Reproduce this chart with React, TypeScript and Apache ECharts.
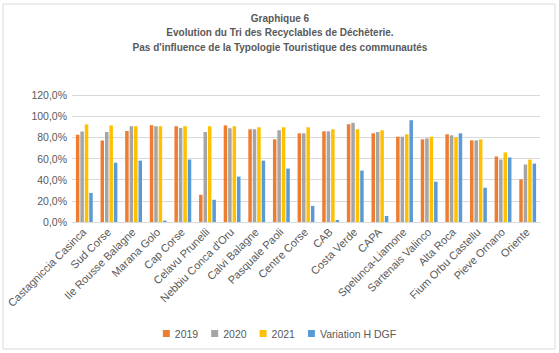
import React, { useEffect, useRef } from "react";
import * as echarts from "echarts";

const categories = [
  "Castagniccia Casinca", "Sud Corse", "Ile Rousse Balagne", "Marana Golo", "Cap Corse",
  "Celavu Prunelli", "Nebbiu Conca d'Oru", "Calvi Balagne", "Pasquale Paoli", "Centre Corse",
  "CAB", "Costa Verde", "CAPA", "Spelunca-Liamone", "Sartenais Valinco", "Alta Roca",
  "Fium Orbu Castellu", "Pieve Ornano", "Oriente",
];
const v2019 = [82.5, 77, 86, 91.5, 90.5, 25.7, 91.3, 87.6, 78.1, 83.8, 85.7, 92.4, 83.8, 80.6, 78.1, 82.9, 77.1, 61.9, 40.3];
const v2020 = [85.5, 85, 90.5, 90.5, 88.9, 85, 88.6, 87.6, 86.7, 83.8, 85.7, 93.7, 85, 80.6, 79, 81.9, 77.1, 59, 54.3];
const v2021 = [92.2, 91.3, 90.5, 90.5, 90.5, 90.5, 90.5, 89.5, 89.5, 89.5, 87.6, 87.6, 86.7, 82.9, 80.6, 80, 78.1, 65.7, 59];
const vVar = [27.5, 56, 58, 1.3, 59, 21, 42.9, 58, 50.5, 15.2, 1.9, 48.6, 5.7, 96.2, 38.1, 83.8, 32.4, 61, 55.2];
const yTicks = { min: 0, max: 120, interval: 20 };
const titleLines = [
  "Graphique 6",
  "Evolution du Tri des Recyclables de Déchèterie.",
  "Pas d'influence de la Typologie Touristique des communautés",
];

const FONT = "'Liberation Sans', Arial, sans-serif";
const TXT = "#595959";

export default function App() {
  const ref = useRef<HTMLDivElement>(null);
  useEffect(() => {
    const chart = echarts.init(ref.current!, null, { renderer: "svg" });
    const mk = (name: string, data: number[], color: string) => ({
      name,
      type: "bar",
      data,
      barWidth: 3.5,
      barGap: "27%",
      itemStyle: { color },
    });
    chart.setOption({
      animation: false,
      textStyle: { fontFamily: FONT },
      graphic: [
        {
          type: "rect",
          shape: { x: 3, y: 4, width: 552, height: 345 },
          style: { fill: "none", stroke: "#D9D9D9", lineWidth: 1 },
          silent: true,
        },
        ...titleLines.map((t, i) => ({
          type: "text",
          x: 280,
          y: 18 + i * 14.7,
          silent: true,
          style: {
            text: t,
            fill: TXT,
            font: `bold 10px ${FONT}`,
            align: "center",
            verticalAlign: "middle",
          },
        })),
      ],
      legend: {
        left: "center",
        top: 323,
        itemWidth: 7,
        itemHeight: 7,
        itemGap: 13,
        icon: "rect",
        textStyle: { fontSize: 10.5, color: TXT, fontFamily: FONT },
        data: ["2019", "2020", "2021", "Variation H DGF"],
      },
      grid: { left: 72, right: 19, top: 95, bottom: 131, containLabel: false },
      xAxis: {
        type: "category",
        data: categories,
        axisLine: { lineStyle: { color: "#D9D9D9" } },
        axisTick: { show: false },
        axisLabel: { rotate: 45, fontSize: 11, color: TXT, interval: 0, margin: 8, fontFamily: FONT },
      },
      yAxis: {
        type: "value",
        min: yTicks.min,
        max: yTicks.max,
        interval: yTicks.interval,
        axisLine: { show: false },
        axisTick: { show: false },
        splitLine: { lineStyle: { color: "#D9D9D9" } },
        axisLabel: {
          fontSize: 10.5,
          color: TXT,
          margin: 5,
          fontFamily: FONT,
          formatter: (v: number) => v.toFixed(1).replace(".", ",") + "%",
        },
      },
      series: [
        mk("2019", v2019, "#ED7D31"),
        mk("2020", v2020, "#A5A5A5"),
        mk("2021", v2021, "#FFC000"),
        mk("Variation H DGF", vVar, "#5B9BD5"),
      ],
    });
    return () => chart.dispose();
  }, []);
  return (
    <div
      ref={ref}
      style={{ position: "fixed", left: 0, top: 0, width: 559, height: 353, background: "#fff" }}
    />
  );
}
